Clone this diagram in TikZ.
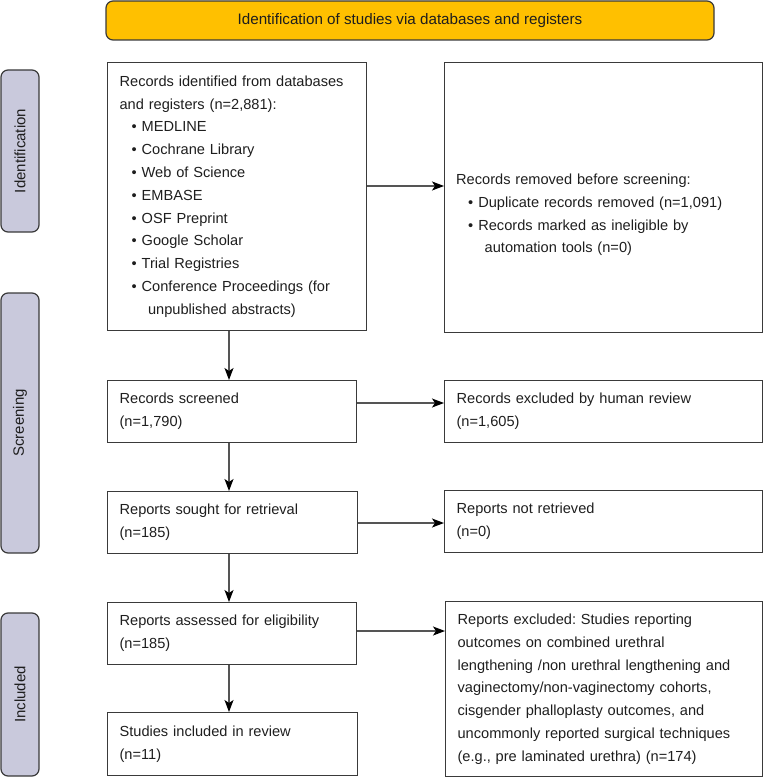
\documentclass[tikz,border=0pt]{standalone}
\usepackage{fontspec}
\setmainfont{Liberation Sans}
\frenchspacing
\usetikzlibrary{arrows.meta,calc}
\definecolor{banner}{HTML}{FFC000}
\definecolor{side}{HTML}{C9C9DC}
\definecolor{edge}{HTML}{3A3A3A}
\definecolor{txt}{HTML}{1E1E1E}
\definecolor{conn}{HTML}{555555}
\tikzset{
  boxtext/.style={inner xsep=12pt, inner ysep=0pt, align=left, text=txt,
    font=\fontsize{14.6}{22.8}\selectfont},
  box/.style={boxtext, draw=edge, line width=1.2pt, rectangle, anchor=north west},
  sidebox/.style={draw=edge, line width=1.2pt, fill=side, rounded corners=7pt,
    rotate=90, inner sep=0pt, text=txt, font=\fontsize{15}{17}\selectfont},
  arr/.style={draw=conn, line width=1.3pt, -{Stealth[length=12pt,width=9pt,inset=3pt,black]}},
}
\newcommand{\bul}{\hspace*{12pt}\textbullet\hspace{5pt}}
\newcommand{\bulc}{\hspace*{28.5pt}}
\begin{document}
\begin{tikzpicture}[x=1pt,y=-1pt]
\useasboundingbox (0,0) rectangle (763,778);
% banner
\node[draw=edge, line width=1.2pt, fill=banner, rounded corners=7pt, minimum width=608pt,
  minimum height=39pt, inner sep=0pt, text=txt, font=\fontsize{15.2}{17}\selectfont]
  (ban) at (410,20.5) {Identification of studies via databases and registers};
% side labels
\node[sidebox, minimum width=162pt, minimum height=38pt] (sid) at (20,151) {Identification};
\node[sidebox, minimum width=260pt, minimum height=38pt] (sscr) at (20,423) {Screening};
\node[sidebox, minimum width=163pt, minimum height=38pt] (sinc) at (20,694.5) {Included};
% left column
\node[box, text width=235pt, minimum height=268pt] (idb) at (107,62)
 {Records identified from databases\\ and registers (n=2,881):\\
  \bul MEDLINE\\ \bul Cochrane Library\\ \bul Web of Science\\ \bul EMBASE\\
  \bul OSF Preprint\\ \bul Google Scholar\\ \bul Trial Registries\\
  \bul Conference Proceedings (for\\ \bulc unpublished abstracts)};
\node[box, text width=225pt, minimum height=62pt] (scr) at (107,380)
 {Records screened\\ (n=1,790)};
\node[box, text width=226pt, minimum height=62pt] (sou) at (107,491)
 {Reports sought for retrieval\\ (n=185)};
\node[box, text width=225pt, minimum height=62pt] (ass) at (107,602)
 {Reports assessed for eligibility\\ (n=185)};
\node[box, text width=226pt, minimum height=63pt] (inc) at (107,712)
 {Studies included in review\\ (n=11)};
% right column
\node[box, text width=294pt, minimum height=270pt] (rem) at (444,62) {};
\node[boxtext, anchor=west, text width=294pt] (remt) at (444,215)
 {Records removed before screening:\\
  \bul Duplicate records removed (n=1,091)\\
  \bul Records marked as ineligible by\\ \bulc automation tools (n=0)};
\node[box, text width=294pt, minimum height=62pt] (exc) at (444,380)
 {Records excluded by human review\\ (n=1,605)};
\node[box, text width=294pt, minimum height=62pt] (nre) at (444,490)
 {Reports not retrieved\\ (n=0)};
\node[box, text width=293pt, minimum height=175pt] (rex) at (445,601)
 {Reports excluded: Studies reporting\\ outcomes on combined urethral\\
  lengthening /non urethral lengthening and\\ vaginectomy/non-vaginectomy cohorts,\\
  cisgender phalloplasty outcomes, and\\ uncommonly reported surgical techniques\\
  (e.g., pre laminated urethra) (n=174)};
% connectors
\coordinate (vx) at (229,0);
\draw[arr] (idb.south -| vx) -- (scr.north -| vx);
\draw[arr] (scr.south -| vx) -- (sou.north -| vx);
\draw[arr] (sou.south -| vx) -- (ass.north -| vx);
\draw[arr] (ass.south -| vx) -- (inc.north -| vx);
\coordinate (h1) at (0,186);
\coordinate (h2) at (0,403);
\coordinate (h3) at (0,523);
\coordinate (h4) at (0,631);
\draw[arr] (idb.east |- h1) -- (rem.west |- h1);
\draw[arr] (scr.east |- h2) -- (exc.west |- h2);
\draw[arr] (sou.east |- h3) -- (nre.west |- h3);
\draw[arr] (ass.east |- h4) -- (rex.west |- h4);
\end{tikzpicture}
\end{document}
